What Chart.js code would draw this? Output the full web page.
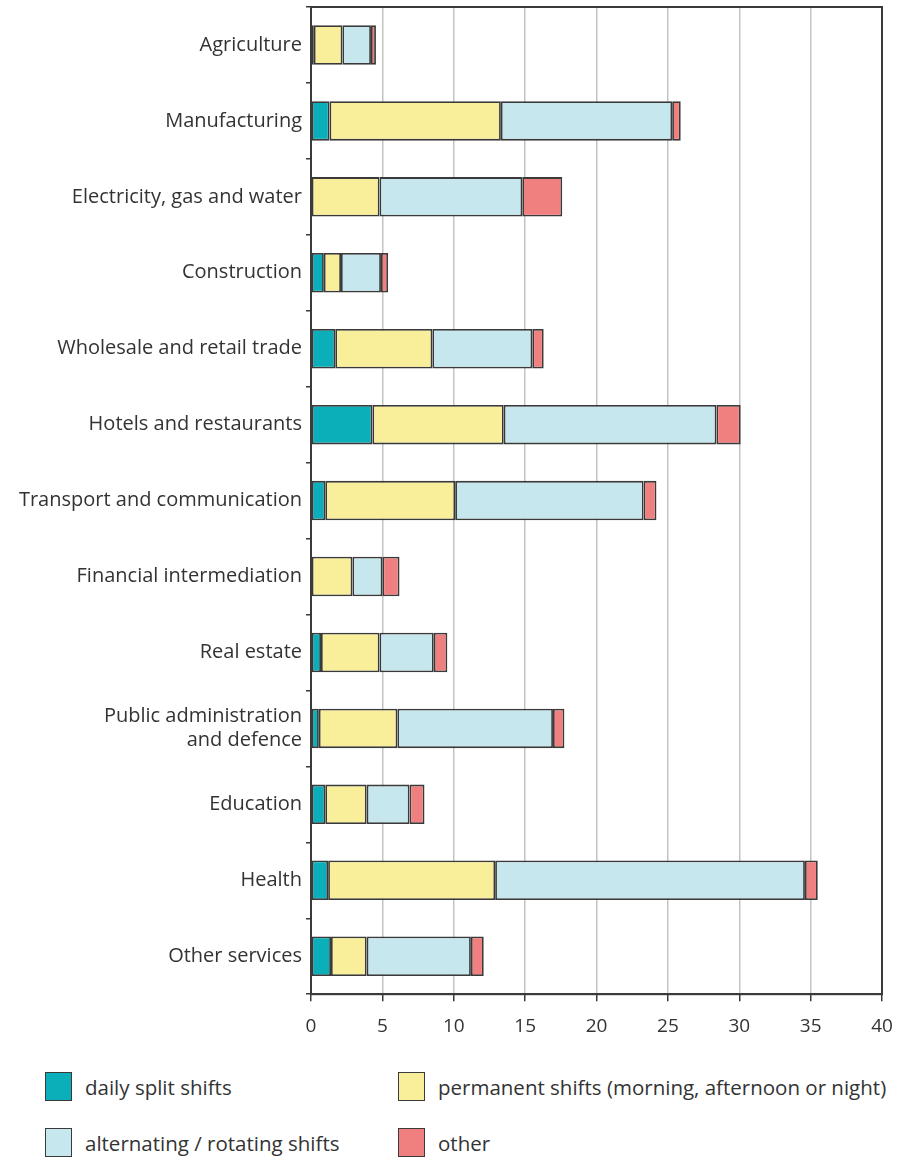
<!DOCTYPE html>
<html>
<head>
<meta charset="utf-8">
<script src="https://cdn.jsdelivr.net/npm/chart.js@4"></script>
<style>
  body { margin: 0; background: #fff; font-family: "Open Sans", sans-serif; color: #333; }
  #wrap { position: relative; width: 904px; height: 1052px; }
  .legend { position: absolute; font-size: 20.5px; display: flex; align-items: center; }
  .legend span.box { width: 27px; height: 29px; border: 1.5px solid #3a3a3a; box-sizing: border-box; margin-right: 13px; }
</style>
</head>
<body>
<div id="wrap"><canvas id="myChart"></canvas></div>
<div class="legend" style="left:45px; top:1072px;"><span class="box" style="background:#0aafba"></span>daily split shifts</div>
<div class="legend" style="left:398px; top:1072px;"><span class="box" style="background:#f9ef9a"></span>permanent shifts (morning, afternoon or night)</div>
<div class="legend" style="left:45px; top:1128px;"><span class="box" style="background:#c7e7ee"></span>alternating / rotating shifts</div>
<div class="legend" style="left:398px; top:1128px;"><span class="box" style="background:#f08080"></span>other</div>

<script>
// sectors
const sectors = [
    'Agriculture',
    'Manufacturing',
    'Electricity, gas and water',
    'Construction',
    'Wholesale and retail trade',
    'Hotels and restaurants',
    'Transport and communication',
    'Financial intermediation',
    'Real estate',
    ['Public administration', 'and defence'],
    'Education',
    'Health',
    'Other services'
];

// % of workers by shift type
const dailySplit  = [0.2, 1.3, 0,   0.9, 1.7, 4.3, 1.0, 0,   0.7, 0.55, 1.0, 1.2, 1.4];
const permanent   = [2.0, 12.0, 4.8, 1.2, 6.8, 9.2, 9.1, 2.9, 4.1, 5.5, 2.9, 11.7, 2.5];
const alternating = [2.0, 12.0, 10.0, 2.8, 7.0, 14.9, 13.2, 2.1, 3.8, 10.9, 3.0, 21.7, 7.3];
const other       = [0.35, 0.6, 2.8, 0.5, 0.8, 1.7, 0.9, 1.2, 0.95, 0.8, 1.05, 0.9, 0.9];

const xTicks = [0, 5, 10, 15, 20, 25, 30, 35, 40];

const ctx = document.getElementById('myChart');

// box around the plot area (top + right edges)
const frame = {
    id: 'frame',
    afterDraw(chart) {
        const a = chart.chartArea;
        const c = chart.ctx;
        c.save();
        c.strokeStyle = '#3a3a3a';
        c.lineWidth = 2;
        c.strokeRect(a.left, a.top, a.right - a.left, a.bottom - a.top);
        c.restore();
    }
};

const border = '#3a3a3a';

new Chart(ctx, {
    type: 'bar',
    data: {
        labels: sectors,
        datasets: [
            { label: 'daily split shifts', data: dailySplit, backgroundColor: '#0aafba' },
            { label: 'permanent shifts (morning, afternoon or night)', data: permanent, backgroundColor: '#f9ef9a' },
            { label: 'alternating / rotating shifts', data: alternating, backgroundColor: '#c7e7ee' },
            { label: 'other', data: other, backgroundColor: '#f08080' }
        ].map(d => Object.assign(d, {
            borderColor: border,
            borderWidth: 1.8,
            borderSkipped: false,
            barPercentage: 0.52,
            categoryPercentage: 1
        }))
    },
    options: {
        indexAxis: 'y',
        responsive: true,
        maintainAspectRatio: false,
        animation: false,
        layout: {
            padding: { top: 7, right: 22, left: 0, bottom: 0 }
        },
        plugins: {
            legend: { display: false },
            tooltip: { enabled: false }
        },
        scales: {
            x: {
                stacked: true,
                min: 0,
                max: 40,
                afterBuildTicks(scale) {
                    scale.ticks = xTicks.map(v => ({ value: v }));
                },
                afterFit(scale) {
                    scale.paddingLeft = 0;
                    scale.paddingRight = 0;
                },
                grid: {
                    color: '#c4c4c4',
                    lineWidth: 1.5,
                    tickColor: '#3a3a3a',
                    tickLength: 7
                },
                border: { color: '#3a3a3a', width: 2 },
                ticks: {
                    color: '#333',
                    font: { family: 'Open Sans', size: 19 },
                    padding: 14
                }
            },
            y: {
                stacked: true,
                afterFit(scale) {
                    scale.width = 311;
                    scale.paddingTop = 0;
                    scale.paddingBottom = 0;
                },
                grid: {
                    offset: true,
                    drawOnChartArea: false,
                    tickColor: '#3a3a3a',
                    tickLength: 5,
                    lineWidth: 1.5
                },
                border: { color: '#3a3a3a', width: 2 },
                ticks: {
                    color: '#333',
                    font: { family: 'Open Sans', size: 20 },
                    padding: 4
                }
            }
        }
    },
    plugins: [frame]
});
</script>
</body>
</html>
